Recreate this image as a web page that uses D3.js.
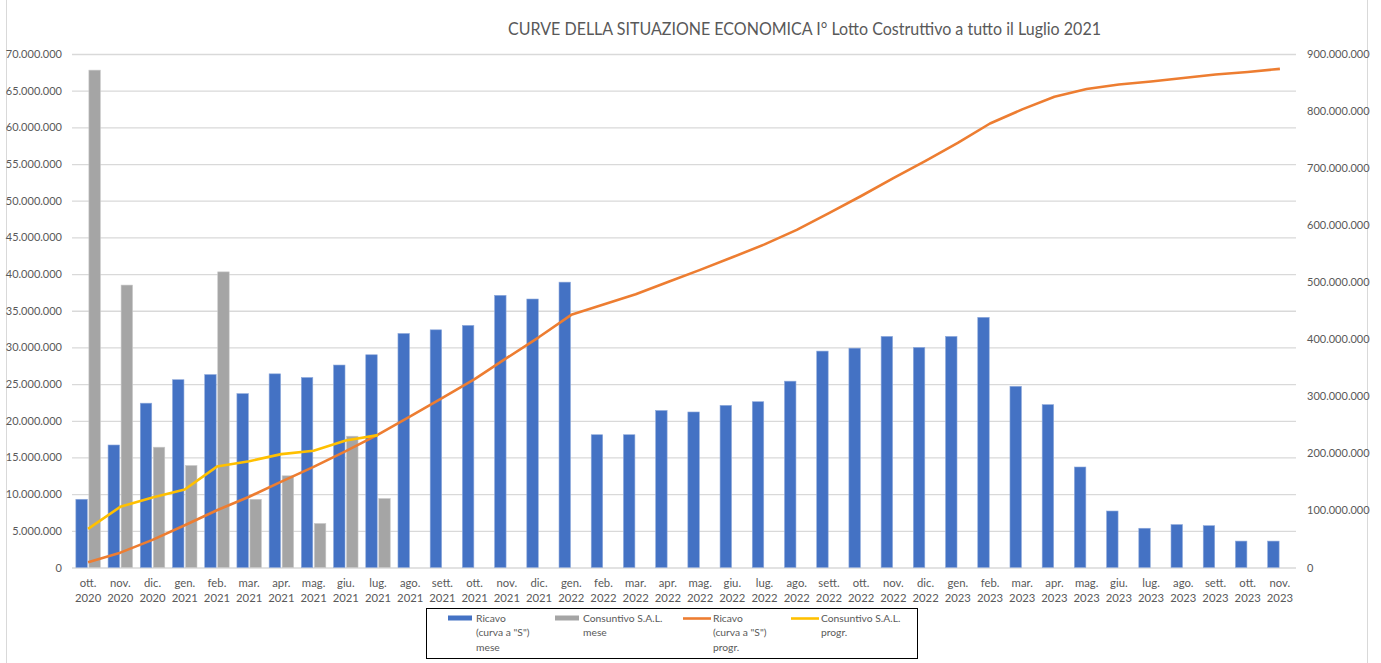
<!DOCTYPE html>
<html>
<head>
<meta charset="utf-8">
<script src="https://cdn.jsdelivr.net/npm/d3@7"></script>
<style>
  html, body { margin: 0; padding: 0; background: #fff; }
  svg { display: block; font-family: Lato, "Open Sans", sans-serif; }
</style>
</head>
<body>
<svg id="chart" width="1381" height="663"></svg>
<script>
// Months of the construction schedule
const categories = [
  "ott. 2020", "nov. 2020", "dic. 2020",
  "gen. 2021", "feb. 2021", "mar. 2021", "apr. 2021", "mag. 2021", "giu. 2021",
  "lug. 2021", "ago. 2021", "sett. 2021", "ott. 2021", "nov. 2021", "dic. 2021",
  "gen. 2022", "feb. 2022", "mar. 2022", "apr. 2022", "mag. 2022", "giu. 2022",
  "lug. 2022", "ago. 2022", "sett. 2022", "ott. 2022", "nov. 2022", "dic. 2022",
  "gen. 2023", "feb. 2023", "mar. 2023", "apr. 2023", "mag. 2023", "giu. 2023",
  "lug. 2023", "ago. 2023", "sett. 2023", "ott. 2023", "nov. 2023"
];

// Monthly planned revenue (S-curve), euro
const ricavoMese = [
  9300000, 16700000, 22400000, 25600000, 26300000, 23700000, 26400000, 25900000,
  27600000, 29000000, 31900000, 32400000, 33000000, 37100000, 36600000, 38900000,
  18100000, 18100000, 21400000, 21200000, 22100000, 22600000, 25400000, 29500000,
  29900000, 31500000, 30000000, 31500000, 34100000, 24700000, 22200000, 13700000,
  7700000, 5350000, 5850000, 5700000, 3600000, 3600000
];

// Monthly certified progress (S.A.L.), euro
const consuntivoMese = [
  67800000, 38500000, 16400000, 13900000, 40300000, 9300000, 12500000, 6000000,
  17900000, 9400000
];

// Progressive planned revenue, euro (right axis)
const ricavoProgr = [
  9300000, 26000000, 48400000, 74000000, 100300000, 124000000, 150400000, 176300000,
  203900000, 232900000, 264800000, 297200000, 330200000, 367300000, 403900000, 442800000,
  460900000, 479000000, 500400000, 521600000, 543700000, 566300000, 591700000, 621200000,
  651100000, 682600000, 712600000, 744100000, 778200000, 802900000, 825100000, 838800000,
  846500000, 851900000, 858000000, 864000000, 868500000, 874000000
];

// Progressive certified progress, euro (right axis)
const consuntivoProgr = [
  67800000, 106300000, 122700000, 136600000, 176900000, 186200000, 198700000,
  204700000, 222600000, 232000000
];

const leftTicks = [0, 5e6, 10e6, 15e6, 20e6, 25e6, 30e6, 35e6, 40e6, 45e6, 50e6, 55e6, 60e6, 65e6, 70e6];
const rightTicks = [0, 100e6, 200e6, 300e6, 400e6, 500e6, 600e6, 700e6, 800e6, 900e6];

const titleText = "CURVE DELLA SITUAZIONE ECONOMICA I° Lotto Costruttivo a tutto il Luglio 2021";

const legendItems = [
  { kind: "rect", color: "#4472C4", lines: ["Ricavo", "(curva a \"S\")", "mese"] },
  { kind: "rect", color: "#A5A5A5", lines: ["Consuntivo S.A.L.", "mese"] },
  { kind: "line", color: "#ED7D31", lines: ["Ricavo", "(curva a \"S\")", "progr."] },
  { kind: "line", color: "#FFC000", lines: ["Consuntivo S.A.L.", "progr."] }
];

const itLocale = d3.formatLocale({ decimal: ",", thousands: ".", grouping: [3], currency: ["€", ""] });
const fmt = itLocale.format(",.0f");

const svg = d3.select("#chart");
const textColor = "#595959";
const gridColor = "#D9D9D9";
const tickFont = 11;

const plot = { left: 72, right: 1296, top: 54, bottom: 567.5 };

// outer chart frame edges
svg.append("line").attr("x1", 6.5).attr("x2", 6.5).attr("y1", 0).attr("y2", 663)
  .attr("stroke", "#D9D9D9");
svg.append("line").attr("x1", 1367.5).attr("x2", 1367.5).attr("y1", 0).attr("y2", 663)
  .attr("stroke", "#D9D9D9");

const x = d3.scaleBand().domain(categories).range([plot.left, plot.right]).paddingInner(0.24).paddingOuter(0.12);
const xSub = d3.scaleBand().domain(["ricavo", "consuntivo"]).range([0, x.bandwidth()]).paddingInner(0.12);
const yL = d3.scaleLinear().domain([0, 70e6]).range([plot.bottom, plot.top]);
const yR = d3.scaleLinear().domain([0, 900e6]).range([plot.bottom, plot.top]);

// horizontal gridlines from the left axis
const gLeft = svg.append("g").attr("transform", `translate(${plot.left},0)`)
  .call(d3.axisLeft(yL).tickValues(leftTicks).tickFormat(fmt)
    .tickSize(-(plot.right - plot.left)).tickPadding(10));
gLeft.select(".domain").remove();
gLeft.selectAll(".tick line").attr("stroke", gridColor).attr("stroke-width", 1.3);
gLeft.selectAll(".tick text").attr("fill", textColor).attr("font-size", tickFont)
  .attr("font-family", "Lato, 'Open Sans', sans-serif");

const gRight = svg.append("g").attr("transform", `translate(${plot.right},0)`)
  .call(d3.axisRight(yR).tickValues(rightTicks).tickFormat(fmt).tickSize(0).tickPadding(11));
gRight.select(".domain").remove();
gRight.selectAll(".tick text").attr("fill", textColor).attr("font-size", tickFont)
  .attr("font-family", "Lato, 'Open Sans', sans-serif");

// category axis, two-line labels
const gX = svg.append("g").attr("transform", `translate(0,${plot.bottom})`)
  .call(d3.axisBottom(x).tickSize(0).tickPadding(0).tickFormat(""));
gX.select(".domain").remove();
gX.selectAll(".tick").each(function(d) {
  const parts = d.split(" ");
  const t = d3.select(this).append("text").attr("fill", textColor).attr("font-size", 11.3)
    .attr("text-anchor", "middle").attr("font-family", "Lato, 'Open Sans', sans-serif");
  t.append("tspan").attr("x", 0).attr("y", 19).text(parts[0]);
  t.append("tspan").attr("x", 0).attr("y", 34).text(parts[1]);
});

// monthly bars
svg.append("g").selectAll("rect").data(ricavoMese).join("rect")
  .attr("x", (d, i) => x(categories[i]) + xSub("ricavo"))
  .attr("y", d => yL(d))
  .attr("width", xSub.bandwidth())
  .attr("height", d => yL(0) - yL(d))
  .attr("fill", "#4472C4").attr("stroke", "#8EA9DB").attr("stroke-width", 0.6);

svg.append("g").selectAll("rect").data(consuntivoMese).join("rect")
  .attr("x", (d, i) => x(categories[i]) + xSub("consuntivo"))
  .attr("y", d => yL(d))
  .attr("width", xSub.bandwidth())
  .attr("height", d => yL(0) - yL(d))
  .attr("fill", "#A5A5A5").attr("stroke", "#C9C9C9").attr("stroke-width", 0.6);

// progressive curves on the right axis
const lineR = d3.line().x((d, i) => x(categories[i]) + x.bandwidth() / 2).y(d => yR(d));
svg.append("path").datum(ricavoProgr).attr("d", lineR)
  .attr("fill", "none").attr("stroke", "#ED7D31").attr("stroke-width", 2.6).attr("stroke-linejoin", "round");
svg.append("path").datum(consuntivoProgr).attr("d", lineR)
  .attr("fill", "none").attr("stroke", "#FFC000").attr("stroke-width", 2.6).attr("stroke-linejoin", "round");

// title
svg.append("text").attr("x", 508).attr("y", 35).attr("fill", textColor)
  .attr("font-size", 17).attr("textLength", 593).attr("lengthAdjust", "spacingAndGlyphs")
  .text(titleText);

// legend
const lg = svg.append("g");
lg.append("rect").attr("x", 426.5).attr("y", 608.5).attr("width", 491).attr("height", 50)
  .attr("fill", "#fff").attr("stroke", "#000").attr("stroke-width", 1);
const legendX = [448, 555, 683, 791];
legendItems.forEach((item, k) => {
  const x0 = legendX[k];
  if (item.kind === "rect") {
    lg.append("rect").attr("x", x0).attr("y", 615.5).attr("width", 24).attr("height", 5).attr("fill", item.color);
  } else {
    lg.append("line").attr("x1", x0).attr("x2", x0 + 28).attr("y1", 618.5).attr("y2", 618.5)
      .attr("stroke", item.color).attr("stroke-width", 2.6);
  }
  const t = lg.append("text").attr("fill", textColor).attr("font-size", 10.3);
  item.lines.forEach((ln, j) => {
    t.append("tspan").attr("x", x0 + (item.kind === "rect" ? 28 : 30)).attr("y", 622 + j * 14.3).text(ln);
  });
});
</script>
</body>
</html>
